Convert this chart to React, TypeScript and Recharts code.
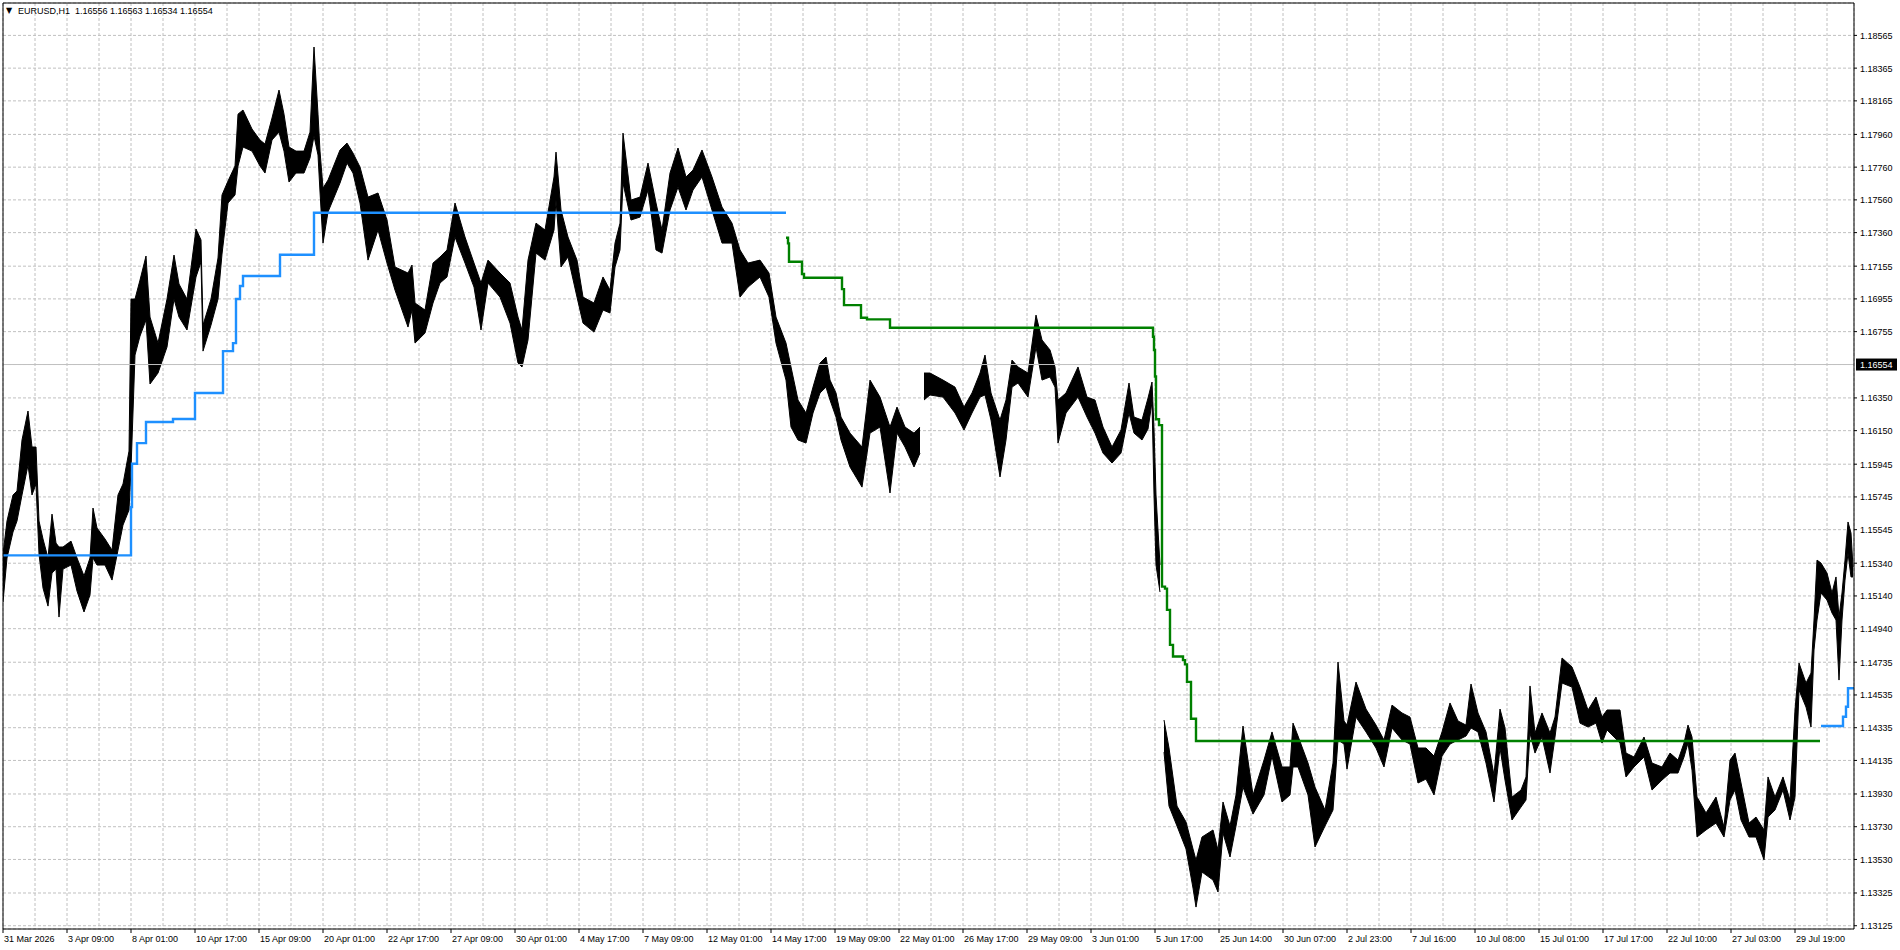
import React from 'react';
import { ComposedChart, Area, Line, XAxis, YAxis, CartesianGrid, ReferenceLine } from 'recharts';

// ---------- hourly price ranges (bar index, low, high) ----------
const barsA = [0, 4, 10, 14, 19, 25, 29, 33, 36, 40,
  45, 49, 53, 56, 60, 68, 74, 81, 87, 90,
  94, 102, 109, 115, 120, 126, 128, 132, 137, 143,
  147, 155, 164, 171, 176, 184, 193, 198, 200, 208,
  215, 219, 225, 232, 235, 240, 249, 257, 262, 269,
  276, 281, 286, 293, 301, 307, 311, 315, 317, 320,
  325];
const lowA = [1.15103, 1.15372, 1.15531, 1.15598, 1.15757, 1.15940, 1.15757, 1.15824, 1.15396, 1.15188,
  1.15078, 1.15280, 1.15304, 1.15011, 1.15304, 1.15329, 1.15170, 1.15042, 1.15146, 1.15372,
  1.15329, 1.15329, 1.15237, 1.15420, 1.15573, 1.15665, 1.15915, 1.16612, 1.16728, 1.16826,
  1.16435, 1.16502, 1.16661, 1.16954, 1.16844, 1.16765, 1.17089, 1.17180, 1.16636, 1.16795,
  1.16954, 1.17229, 1.17541, 1.17590, 1.17767, 1.17883, 1.17858, 1.17767, 1.17724, 1.17926,
  1.17974, 1.17858, 1.17669, 1.17724, 1.17724, 1.17816, 1.17950, 1.17834, 1.17608, 1.17296,
  1.17486];
const highA = [1.15396, 1.15598, 1.15757, 1.15781, 1.16093, 1.16270, 1.16050, 1.16050, 1.15598, 1.15488,
  1.15372, 1.15640, 1.15463, 1.15439, 1.15439, 1.15475, 1.15372, 1.15262, 1.15372, 1.15677,
  1.15555, 1.15488, 1.15420, 1.15757, 1.15824, 1.16025, 1.16954, 1.16954, 1.17070, 1.17217,
  1.16844, 1.16685, 1.16954, 1.17223, 1.17046, 1.16954, 1.17382, 1.17315, 1.16795, 1.16954,
  1.17205, 1.17590, 1.17675, 1.17767, 1.18084, 1.18109, 1.17993, 1.17926, 1.17901, 1.18060,
  1.18231, 1.18084, 1.17883, 1.17858, 1.17858, 1.17974, 1.18494, 1.18084, 1.17858, 1.17632,
  1.17681];

const barsB = [337, 344, 350, 357, 365, 375, 384, 392, 405, 409,
  412, 422, 430, 437, 444, 452, 462, 471, 478, 485,
  497, 507, 515, 519, 525, 533, 542, 551, 553, 558,
  565, 574, 580, 591, 600, 607, 612, 617, 620, 628,
  637, 645, 653, 659, 667, 675, 683, 690, 699, 709,
  719, 729, 737, 745, 757, 766, 773, 783];
const lowB = [1.17663, 1.17785, 1.17724, 1.17541, 1.17192, 1.17376, 1.17174, 1.17009, 1.16783, 1.16887,
  1.16685, 1.16746, 1.16930, 1.17052, 1.17089, 1.17333, 1.17174, 1.17027, 1.16765, 1.17052,
  1.16966, 1.16807, 1.16563, 1.16539, 1.16704, 1.17235, 1.17192, 1.17376, 1.17559, 1.17150,
  1.17211, 1.16966, 1.16807, 1.16752, 1.16887, 1.16869, 1.17150, 1.17254, 1.17663, 1.17437,
  1.17455, 1.17620, 1.17254, 1.17235, 1.17498, 1.17638, 1.17498, 1.17620, 1.17700, 1.17498,
  1.17296, 1.17296, 1.16966, 1.17027, 1.17089, 1.16966, 1.16685, 1.16459];
const highB = [1.17865, 1.17907, 1.17846, 1.17761, 1.17577, 1.17602, 1.17437, 1.17150, 1.17113, 1.17162,
  1.16930, 1.16887, 1.17174, 1.17211, 1.17254, 1.17541, 1.17333, 1.17174, 1.17052, 1.17192,
  1.17113, 1.17052, 1.16844, 1.16765, 1.17192, 1.17418, 1.17376, 1.17700, 1.17852, 1.17498,
  1.17333, 1.17192, 1.16966, 1.16930, 1.17089, 1.17009, 1.17296, 1.17418, 1.17968, 1.17559,
  1.17577, 1.17785, 1.17541, 1.17376, 1.17724, 1.17877, 1.17700, 1.17742, 1.17865, 1.17700,
  1.17516, 1.17418, 1.17254, 1.17174, 1.17192, 1.17113, 1.16844, 1.16685];

// null entries mark the data gaps (22 May, 5 Jun -> 25 Jun)
const barsC = [788, 795, 803, 810, 817, 823, 827, 833, 838, 847,
  859, 867, 877, 887, 894, 902, 911, 917, 919, 921,
  927, 940, 952, 961, 969, 977, 982, 988, 997, 1003,
  1009, 1015, 1025, 1033, 1039, 1047, 1052, 1055, 1063, 1075,
  1084, 1092, 1100, 1109, 1118, 1126, 1131, 1139, 1145, 1149,
  1151, 1153, 1157, 1159];
const lowC: (number | null)[] = [1.16172, 1.16093, 1.16074, 1.16258, 1.16380, 1.16416, 1.16337, 1.16233, 1.16093, 1.15928,
  1.15805, 1.16135, 1.16172, 1.15769, 1.16135, 1.16050, 1.15928, 1.16013, null, 1.16337,
  1.16368, 1.16355, 1.16258, 1.16154, 1.16258, 1.16355, 1.16368, 1.16215, 1.15867, 1.16093,
  1.16416, 1.16441, 1.16355, 1.16661, 1.16459, 1.16478, 1.16416, 1.16074, 1.16258, 1.16355,
  1.16233, 1.16135, 1.16013, 1.15952, 1.16013, 1.16258, 1.16135, 1.16093, 1.16160, 1.16325,
  1.15757, 1.15329, 1.15164, null];
const highC: (number | null)[] = [1.16539, 1.16337, 1.16258, 1.16416, 1.16563, 1.16600, 1.16459, 1.16380, 1.16233, 1.16135,
  1.16050, 1.16459, 1.16355, 1.16172, 1.16294, 1.16172, 1.16135, 1.16172, null, 1.16502,
  1.16502, 1.16459, 1.16416, 1.16294, 1.16380, 1.16502, 1.16612, 1.16380, 1.16215, 1.16337,
  1.16581, 1.16539, 1.16502, 1.16856, 1.16704, 1.16643, 1.16539, 1.16337, 1.16380, 1.16539,
  1.16355, 1.16337, 1.16172, 1.16050, 1.16154, 1.16441, 1.16233, 1.16215, 1.16349, 1.16447,
  1.16160, 1.15757, 1.15329, null];

const barsD = [1161, 1166, 1174, 1183, 1190, 1193, 1199, 1210, 1215, 1220,
  1227, 1233, 1240, 1250, 1261, 1269, 1279, 1287, 1290, 1295,
  1305, 1312, 1322, 1330, 1335, 1341, 1344, 1353, 1363, 1373,
  1381, 1389, 1399, 1407, 1415, 1423, 1431, 1439, 1447, 1455,
  1463, 1468, 1475, 1483, 1491, 1497, 1502];
const lowD = [1.14186, 1.13856, 1.13734, 1.13594, 1.13355, 1.13239, 1.13453, 1.13404, 1.13331, 1.13691,
  1.13545, 1.13734, 1.13972, 1.13807, 1.13924, 1.14162, 1.13881, 1.13924, 1.14095, 1.14095,
  1.13924, 1.13606, 1.13734, 1.13832, 1.14260, 1.14235, 1.14082, 1.14400, 1.14309, 1.14211,
  1.14095, 1.14333, 1.14260, 1.14235, 1.13997, 1.14021, 1.13924, 1.14162, 1.14235, 1.14260,
  1.14284, 1.14333, 1.14309, 1.14119, 1.13881, 1.14211, 1.14015];
const highD = [1.14382, 1.14211, 1.13856, 1.13759, 1.13594, 1.13526, 1.13667, 1.13710, 1.13588, 1.13881,
  1.13734, 1.13924, 1.14345, 1.13924, 1.14137, 1.14309, 1.14095, 1.14095, 1.14363, 1.14284,
  1.14119, 1.13972, 1.13832, 1.14119, 1.14736, 1.14376, 1.14351, 1.14614, 1.14449, 1.14351,
  1.14260, 1.14473, 1.14425, 1.14400, 1.14211, 1.14211, 1.14162, 1.14309, 1.14486, 1.14376,
  1.14351, 1.14602, 1.14425, 1.14309, 1.14046, 1.14449, 1.14333];

const barsE = [1509, 1518, 1523, 1527, 1532, 1539, 1547, 1552, 1559, 1569,
  1577, 1585, 1593, 1599, 1604, 1611, 1617, 1623, 1631, 1641,
  1649, 1659, 1667, 1675, 1681, 1685, 1689, 1694, 1703, 1713,
  1721, 1727, 1732, 1738, 1746, 1753, 1761, 1765, 1772, 1780,
  1787, 1792, 1796, 1803, 1808, 1811, 1814, 1818, 1824, 1829,
  1833, 1836, 1839, 1842, 1845, 1848, 1850];
const lowE = [1.13771, 1.13850, 1.13893, 1.14302, 1.14180, 1.14278, 1.14058, 1.14278, 1.14608, 1.14583,
  1.14363, 1.14339, 1.14363, 1.14241, 1.14321, 1.14278, 1.14241, 1.14034, 1.14095, 1.14156,
  1.13954, 1.14015, 1.14058, 1.14058, 1.14156, 1.14241, 1.14076, 1.13667, 1.13710, 1.13752,
  1.13667, 1.13893, 1.13954, 1.13771, 1.13667, 1.13667, 1.13527, 1.13789, 1.13832, 1.13954,
  1.13771, 1.13911, 1.14565, 1.14461, 1.14339, 1.14810, 1.14993, 1.15158, 1.15115, 1.15036,
  1.14993, 1.14626, 1.14993, 1.15237, 1.15402, 1.15256, 1.15256];
const highE = [1.13911, 1.13954, 1.14034, 1.14590, 1.14302, 1.14425, 1.14302, 1.14400, 1.14761, 1.14706,
  1.14583, 1.14443, 1.14522, 1.14400, 1.14443, 1.14443, 1.14443, 1.14180, 1.14156, 1.14278,
  1.14119, 1.14095, 1.14180, 1.14137, 1.14241, 1.14351, 1.14278, 1.13911, 1.13814, 1.13911,
  1.13728, 1.14137, 1.14180, 1.13997, 1.13752, 1.13789, 1.13710, 1.14034, 1.13911, 1.14034,
  1.13893, 1.14443, 1.14730, 1.14608, 1.14669, 1.14993, 1.15359, 1.15341, 1.15280, 1.15158,
  1.15256, 1.15011, 1.15158, 1.15359, 1.15592, 1.15524, 1.15317];

// ---------- indicator step lines ----------
const blueBars = [0, 128, 129, 134, 143, 170, 192, 220, 230, 233, 237, 240, 277, 311, 783];
const blueValues = [1.15388, 1.15683, 1.15948, 1.16074, 1.16203, 1.16221, 1.16380, 1.16636, 1.16685, 1.16954, 1.17034, 1.17095, 1.17225, 1.17481, 1.17481];
const blueBars2 = [1818, 1840, 1843, 1845, 1851];
const blueValues2 = [1.14345, 1.14402, 1.14463, 1.14576, 1.14576];

const greenBars = [783, 785, 786, 799, 801, 839, 841, 858, 864, 887, 1150, 1151, 1152, 1153, 1156, 1159, 1162, 1164, 1167, 1170, 1180, 1182, 1184, 1188, 1193, 1817];
const greenValues = [1.17329, 1.17294, 1.17182, 1.17107, 1.17084, 1.17015, 1.16917, 1.16840, 1.16830, 1.16779, 1.16724, 1.16643, 1.16481, 1.16220, 1.16184, 1.15197, 1.15185, 1.15055, 1.14841, 1.14770, 1.14748, 1.14722, 1.14615, 1.14390, 1.14254, 1.14254];

// ---------- axes ----------
const xTickLabels = ['31 Mar 2026', '3 Apr 09:00', '8 Apr 01:00', '10 Apr 17:00', '15 Apr 09:00', '20 Apr 01:00',
  '22 Apr 17:00', '27 Apr 09:00', '30 Apr 01:00', '4 May 17:00', '7 May 09:00', '12 May 01:00', '14 May 17:00',
  '19 May 09:00', '22 May 01:00', '26 May 17:00', '29 May 09:00', '3 Jun 01:00', '5 Jun 17:00', '25 Jun 14:00',
  '30 Jun 07:00', '2 Jul 23:00', '7 Jul 16:00', '10 Jul 08:00', '15 Jul 01:00', '17 Jul 17:00', '22 Jul 10:00',
  '27 Jul 03:00', '29 Jul 19:00'];
const yTickLabels = ['1.18565', '1.18365', '1.18165', '1.17960', '1.17760', '1.17560', '1.17360', '1.17155',
  '1.16955', '1.16755', '1.16350', '1.16150', '1.15945', '1.15745', '1.15545', '1.15340', '1.15140', '1.14940',
  '1.14735', '1.14535', '1.14335', '1.14135', '1.13930', '1.13730', '1.13530', '1.13325', '1.13125'];
const currentPrice = 1.16554;
const currentPriceLabel = '1.16554';
const symbolTitle = 'EURUSD,H1';
const ohlcTitle = '1.16556 1.16563 1.16534 1.16554';

const Y_MIN = 1.13105;
const Y_MAX = 1.18763;
const BAR_MAX = 1851;
const BARS_PER_GRID = 32;
const FONT = "'Liberation Sans', Arial, sans-serif";

// ---------- build series ----------
const allBars = [...barsA, ...barsB, ...barsC, ...barsD, ...barsE];
const allLow: (number | null)[] = [...lowA, ...lowB, ...lowC, ...lowD, ...lowE];
const allHigh: (number | null)[] = [...highA, ...highB, ...highC, ...highD, ...highE];
const priceData = allBars.map((b, i) => ({
  bar: b,
  range: allLow[i] == null || allHigh[i] == null ? null : [allLow[i], allHigh[i]],
}));
const blueData = [
  ...blueBars.map((b, i) => ({ bar: b, v: blueValues[i] })),
  { bar: 1200, v: null },
  ...blueBars2.map((b, i) => ({ bar: b, v: blueValues2[i] })),
];
const greenData = greenBars.map((b, i) => ({ bar: b, v: greenValues[i] }));

const xTicks: number[] = [];
for (let t = 0; t <= BAR_MAX; t += BARS_PER_GRID) xTicks.push(t);
const yTickValues = yTickLabels.map(Number);
const yTicks = [...yTickValues, currentPrice];

function renderXTick(props: any) {
  const { x, y, payload } = props;
  const k = Math.round(payload.value / BARS_PER_GRID);
  if (k % 2 !== 0) return <g />;
  const label = xTickLabels[k / 2];
  return (
    <g>
      <line x1={x} x2={x} y1={y} y2={y + 4} stroke="#000" />
      <text x={x + 1} y={y + 12.5} fontSize={9} fontFamily={FONT} fill="#000" textAnchor="start">{label}</text>
    </g>
  );
}

function renderYTick(props: any) {
  const { x, y, payload } = props;
  const v = payload.value;
  if (v === currentPrice) {
    return (
      <g>
        <rect x={x + 2} y={y - 6} width={41} height={12} fill="#000" />
        <text x={x + 6} y={y + 3.5} fontSize={9} fontFamily={FONT} fill="#fff" textAnchor="start">{currentPriceLabel}</text>
      </g>
    );
  }
  const idx = yTickValues.indexOf(v);
  return (
    <g>
      <line x1={x} x2={x + 3} y1={y} y2={y} stroke="#000" />
      <text x={x + 6} y={y + 3.5} fontSize={9} fontFamily={FONT} fill="#000" textAnchor="start">{yTickLabels[idx]}</text>
    </g>
  );
}

export default function App() {
  return (
    <div style={{ position: 'absolute', left: 0, top: 0, width: 1900, height: 950, background: '#fff' }}>
      <ComposedChart width={1900} height={950} margin={{ top: 3, right: 0, bottom: 0, left: 3 }}>
        <CartesianGrid stroke="#c0c0c0" strokeDasharray="3 2" />
        <XAxis
          type="number"
          dataKey="bar"
          domain={[0, BAR_MAX]}
          ticks={xTicks}
          interval={0}
          allowDataOverflow
          height={21}
          tickSize={0}
          tickMargin={0}
          tickLine={false}
          axisLine={{ stroke: '#000' }}
          tick={renderXTick}
        />
        <YAxis
          type="number"
          orientation="right"
          domain={[Y_MIN, Y_MAX]}
          ticks={yTicks}
          interval={0}
          allowDataOverflow
          width={46}
          tickSize={0}
          tickMargin={0}
          tickLine={false}
          axisLine={{ stroke: '#000' }}
          tick={renderYTick}
        />
        <ReferenceLine y={currentPrice} stroke="#c0c0c0" strokeWidth={1} />
        <Area
          data={priceData}
          dataKey="range"
          type="linear"
          stroke="#000"
          strokeWidth={1}
          fill="#000"
          fillOpacity={1}
          dot={false}
          activeDot={false}
          connectNulls={false}
          isAnimationActive={false}
        />
        <Line data={blueData} dataKey="v" type="stepAfter" stroke="#1e90ff" strokeWidth={2.4} dot={false} activeDot={false} connectNulls={false} isAnimationActive={false} />
        <Line data={greenData} dataKey="v" type="stepAfter" stroke="#008000" strokeWidth={2.4} dot={false} activeDot={false} isAnimationActive={false} />
        <ReferenceLine x={0} stroke="#000" />
        <ReferenceLine y={Y_MAX} stroke="#000" />
      </ComposedChart>
      <svg width={320} height={20} style={{ position: 'absolute', left: 0, top: 0 }}>
        <text x={6} y={13} fontSize={8} fontFamily="'DejaVu Sans', sans-serif" fill="#000">▼</text>
        <text x={18} y={14} fontSize={9} fontFamily={FONT} fill="#000" style={{ whiteSpace: 'pre' }}>{symbolTitle + '  ' + ohlcTitle}</text>
      </svg>
    </div>
  );
}
